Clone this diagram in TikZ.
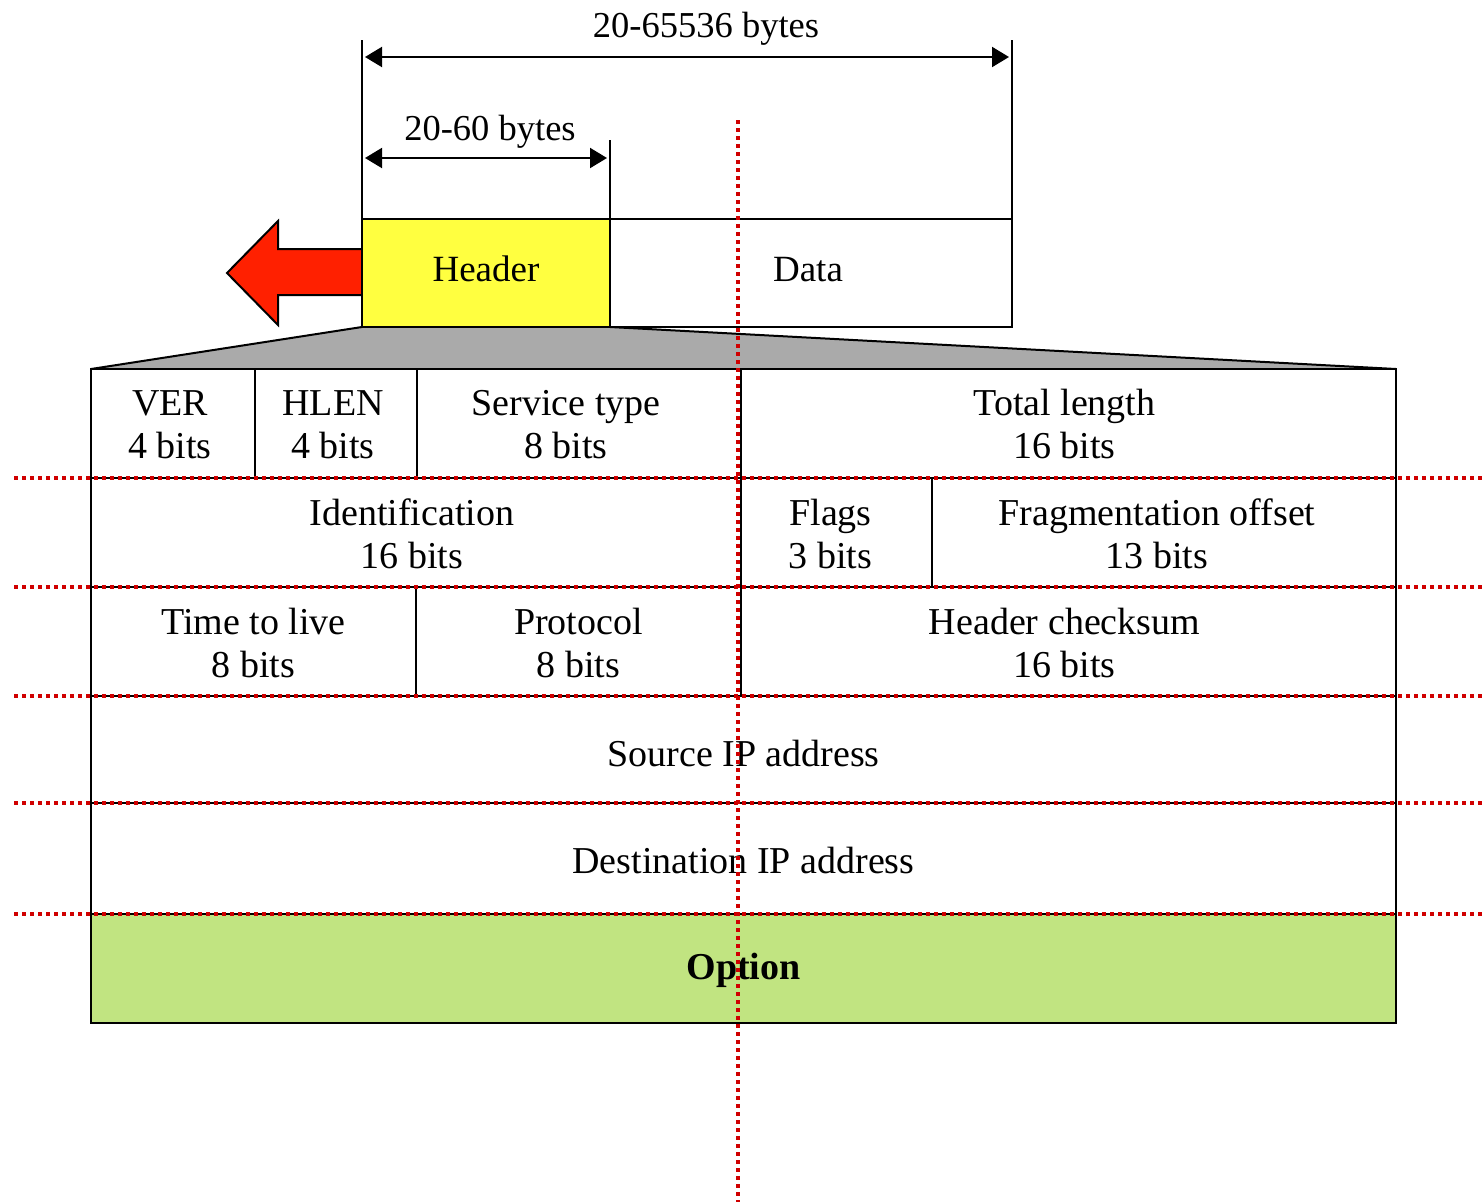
\documentclass[tikz,border=0pt]{standalone}
\usepackage{fontspec}
\setmainfont{Liberation Serif}
\usetikzlibrary{arrows.meta,fit}

\definecolor{hdryellow}{HTML}{FFFF40}
\definecolor{optgreen}{HTML}{C1E481}
\definecolor{wedgegray}{HTML}{AAAAAA}
\definecolor{pktred}{HTML}{FF2000}
\definecolor{guidered}{HTML}{D00000}

% equal height and depth for every text line
\newcommand{\lnstrut}{\vrule width 0pt height 0.85em depth 0.15em}

\tikzset{
  cell/.style={draw, line width=2pt, inner sep=0pt, outer sep=0pt},
  celltext/.style={inner sep=0pt, align=center, font=\fontsize{38}{43}\selectfont},
  boxtext/.style={inner sep=0pt, font=\fontsize{37}{42}\selectfont},
  dimtext/.style={inner sep=0pt, anchor=base, font=\fontsize{36.5}{42}\selectfont},
  dimline/.style={line width=2pt},
  dimarrow/.style={line width=2pt, {Triangle[length=17pt,width=20pt]}-{Triangle[length=17pt,width=20pt]}},
  guide/.style={guidered, line width=3.2pt, dash pattern=on 4pt off 4pt},
}

\begin{document}
\begin{tikzpicture}[x=1pt,y=-1pt]
\useasboundingbox (0,0) rectangle (1482,1202);

% grey wedge widening the header into the table
\fill[wedgegray] (362,327) -- (610,327) -- (1396,369) -- (91,369) -- cycle;
\draw[line width=2pt] (91,369) -- (362,327);
\draw[line width=2pt] (610,327) -- (1396,369);

% red arrow pointing left
\draw[fill=pktred, line width=2pt, line join=miter]
  (362,249) -- (278,249) -- (278,221) -- (227,273) -- (278,325) -- (278,295) -- (362,295);

% datagram: header and data
\node[cell, fill=hdryellow, fit={(362,219) (610,327)}] (hdr) {};
\node[cell, fit={(610,219) (1012,327)}] (data) {};
\node[boxtext] (hdrlbl) at ([yshift=4pt]hdr.center) {\lnstrut Header};
\node[boxtext] (datalbl) at ([xshift=-3pt,yshift=4pt]data.center) {\lnstrut Data};

% size dimensions
\coordinate (tickA) at (362,40);
\coordinate (tickB) at (1012,40);
\coordinate (tickC) at (610,140);
\draw[dimline] (tickA) -- (hdr.north west);
\draw[dimline] (tickB) -- (data.north east);
\draw[dimline] (tickC) -- (hdr.north east);
\coordinate (allL) at (365,57);
\coordinate (allR) at (1009,57);
\coordinate (hdrL) at (365,158);
\coordinate (hdrR) at (607,158);
\draw[dimarrow] (allL) -- (allR);
\draw[dimarrow] (hdrL) -- (hdrR);
\node[dimtext] (alltxt) at (706,37) {20-65536 bytes};
\node[dimtext] (hdrtxt) at (490,140) {20-60 bytes};

% header fields: outlines
\node[cell, fit={(91,369) (255,478)}] (ver) {};
\node[cell, fit={(255,369) (417,478)}] (hlen) {};
\node[cell, fit={(417,369) (741,478)}] (svc) {};
\node[cell, fit={(741,369) (1396,478)}] (tot) {};
\node[cell, fit={(91,478) (741,587)}] (ident) {};
\node[cell, fit={(741,478) (932,587)}] (flags) {};
\node[cell, fit={(932,478) (1396,587)}] (frag) {};
\node[cell, fit={(91,587) (416,696)}] (ttl) {};
\node[cell, fit={(416,587) (741,696)}] (proto) {};
\node[cell, fit={(741,587) (1396,696)}] (chk) {};
\node[cell, fit={(91,696) (1396,803)}] (src) {};
\node[cell, fit={(91,803) (1396,914)}] (dst) {};
\node[cell, fill=optgreen, fit={(91,914) (1396,1023)}] (opt) {};

% header fields: names and sizes
\node[celltext] (verlbl)   at ([xshift=-3pt,yshift=-0.6pt]ver.center)   {\lnstrut VER\\\lnstrut 4 bits};
\node[celltext] (hlenlbl)  at ([xshift=-3pt,yshift=-0.6pt]hlen.center)  {\lnstrut HLEN\\\lnstrut 4 bits};
\node[celltext] (svclbl)   at ([xshift=-13pt,yshift=-0.6pt]svc.center)  {\lnstrut Service type\\\lnstrut 8 bits};
\node[celltext] (totlbl)   at ([xshift=-4pt,yshift=-0.6pt]tot.center)   {\lnstrut Total length\\\lnstrut 16 bits};
\node[celltext] (identlbl) at ([xshift=-4pt,yshift=-1pt]ident.center) {\lnstrut Identification\\\lnstrut 16 bits};
\node[celltext] (flagslbl) at ([xshift=-6pt,yshift=-1pt]flags.center) {\lnstrut Flags\\\lnstrut 3 bits};
\node[celltext] (fraglbl)  at ([xshift=-7pt,yshift=-1pt]frag.center)  {\lnstrut Fragmentation offset\\\lnstrut 13 bits};
\node[celltext] (ttllbl)   at ([yshift=-1pt]ttl.center)   {\lnstrut Time to live\\\lnstrut 8 bits};
\node[celltext] (protolbl) at ([yshift=-1pt]proto.center) {\lnstrut Protocol\\\lnstrut 8 bits};
\node[celltext] (chklbl)   at ([xshift=-4pt,yshift=-1pt]chk.center)   {\lnstrut Header checksum\\\lnstrut 16 bits};
\node[celltext] (srclbl)   at ([yshift=-4pt]src.center) {\lnstrut Source IP address};
\node[celltext] (dstlbl)   at ([yshift=-2pt]dst.center) {\lnstrut Destination IP address};
\node[celltext, font=\fontsize{38}{43}\selectfont\bfseries] (optlbl) at ([yshift=1pt]opt.center) {\lnstrut Option};

% 32-bit word guides
\foreach \gy in {478,587,696,803,914}
  \draw[guide] (14,\gy) -- (1482,\gy);
\draw[guide] (738,120) -- (738,1202);
\end{tikzpicture}
\end{document}
